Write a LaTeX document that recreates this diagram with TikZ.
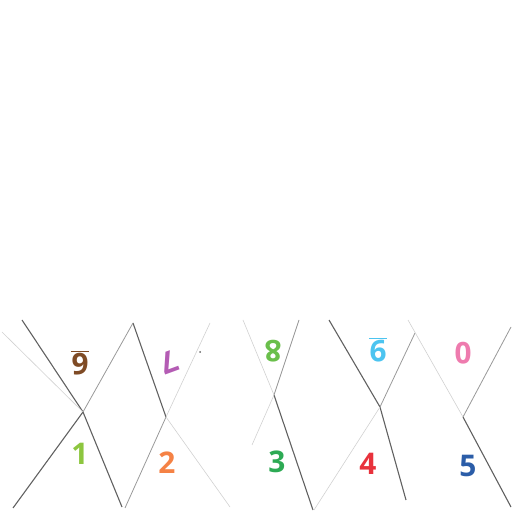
\documentclass[tikz,border=0pt]{standalone}
\usepackage{fontspec}
\setmainfont{Open Sans}
\definecolor{csix}{HTML}{7F4B25}
\definecolor{cseven}{HTML}{B45CB4}
\definecolor{ceight}{HTML}{6ABF4B}
\definecolor{cnine}{HTML}{4CC4F0}
\definecolor{czero}{HTML}{EE7BAE}
\definecolor{cone}{HTML}{8DC63F}
\definecolor{ctwo}{HTML}{F58245}
\definecolor{cthree}{HTML}{2DAA54}
\definecolor{cfour}{HTML}{E8323C}
\definecolor{cfive}{HTML}{2B5DA8}
\tikzset{
  fold/.style={draw, line width=1.1pt, black!62},
  soft fold/.style={draw, line width=0.8pt, black!40},
  faint fold/.style={draw, line width=0.6pt, black!18},
  digit/.style={inner sep=0pt, font=\bfseries\Huge, scale=1.2, transform shape}
}

\begin{document}
\begin{tikzpicture}[x=1pt, y=1pt]
  \useasboundingbox (0,0) rectangle (512,512);
  % tips of the triangles and loose ends
  \coordinate (a) at (83,100);
  \coordinate (b) at (166,95);
  \coordinate (c) at (274,117);
  \coordinate (d) at (380,105);
  \coordinate (e) at (463,95);
  \coordinate (a1) at (22,192);
  \coordinate (a2) at (122,5);
  \coordinate (a3) at (133,189);
  \coordinate (a4) at (13,4);
  \coordinate (a5) at (2,180);
  \coordinate (b1) at (210,189);
  \coordinate (b2) at (125,4);
  \coordinate (b3) at (230,5);
  \coordinate (c1) at (243,192);
  \coordinate (c2) at (299,192);
  \coordinate (c3) at (313,2);
  \coordinate (c4) at (252,67);
  \coordinate (d1) at (329,192);
  \coordinate (d2) at (415,179);
  \coordinate (d3) at (314,2);
  \coordinate (d4) at (406,12);
  \coordinate (e1) at (408,192);
  \coordinate (e2) at (511,185);
  \coordinate (e3) at (511,5);
  \foreach \source/\sink in {a1/a, a/a2, a/a4, a3/b, c/c3, d1/d, d/d4, e/e3} {
      \path[fold] (\source) -- (\sink);
  }
  \foreach \source/\sink in {a3/a, b/b2, c2/c, d/d2, e/e2} {
      \path[soft fold] (\source) -- (\sink);
  }
  \foreach \source/\sink in {a5/a, b/b1, b/b3, c1/c, c/c4, d/d3, e1/e} {
      \path[faint fold] (\source) -- (\sink);
  }
  \fill[black!60] (200,160) circle (1pt);
  % upside-down digits on top, upright ones below
  \node[digit, rotate=180, text=csix] (six) at (80,149) {\underline{6}};
  \node[digit, rotate=200, text=cseven] (seven) at (169,150) {7};
  \node[digit, rotate=180, text=ceight] (eight) at (273,161) {8};
  \node[digit, rotate=180, text=cnine] (nine) at (378,162) {\underline{9}};
  \node[digit, rotate=180, text=czero] (zero) at (463,159) {0};
  \node[digit, text=cone] (one) at (80,58) {1};
  \node[digit, text=ctwo] (two) at (167,49) {2};
  \node[digit, text=cthree] (three) at (277,50) {3};
  \node[digit, text=cfour] (four) at (368,48) {4};
  \node[digit, text=cfive] (five) at (468,46) {5};
\end{tikzpicture}
\end{document}
